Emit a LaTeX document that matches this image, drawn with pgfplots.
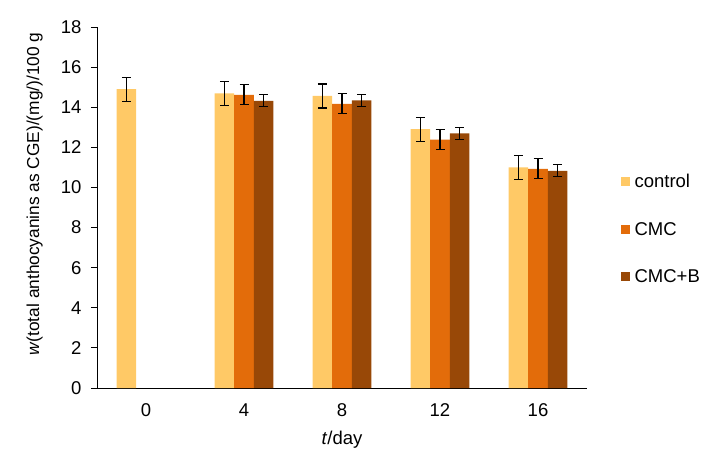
\documentclass[border=0pt]{standalone}
\usepackage{fontspec}
\setmainfont{Liberation Sans}
\usepackage{pgfplots}
\pgfplotsset{compat=1.18}
\definecolor{cctrl}{HTML}{FFC966}
\definecolor{ccmc}{HTML}{E36C0A}
\definecolor{ccmcb}{HTML}{984807}
\begin{document}
\begin{tikzpicture}
\path (-97pt,-87pt) rectangle (615pt,388pt);
\begin{axis}[
  at={(0pt,0pt)}, anchor=south west,
  scale only axis, width=490pt, height=361pt,
  font=\fontsize{18.5}{22}\selectfont,
  /pgf/number format/assume math mode=true,
  xmin=-0.5, xmax=4.5, ymin=0, ymax=18,
  xtick={0,1,2,3,4}, xticklabels={0,4,8,12,16},
  ytick={0,2,...,18},
  axis x line*=bottom, axis y line*=left,
  x axis line style={-, line width=1pt},
  y axis line style={-, line width=0.8pt},
  major x tick style={draw=none},
  y tick style={black, line width=0.8pt},
  tick align=outside, major tick length=6pt,
  yticklabel style={xshift=-6pt},
  xticklabel style={yshift=-6pt},
  xlabel={\textit{t}/day},
  ylabel={\textit{w}(total anthocyanins as CGE)/(mg/)/100 g},
  xlabel style={at={(axis description cs:0.5,-0.144)}, anchor=center},
  ylabel style={at={(axis description cs:-0.127,0.537)}, anchor=center, rotate=0,
    font=\fontsize{17.3}{20}\selectfont},
  ybar=0pt, bar width=0.2,
  legend style={draw=none, fill=none, at={(1.062,0.44)}, anchor=west,
    font=\fontsize{18.5}{22}\selectfont, row sep=29pt,
    nodes={inner xsep=2pt}},
  legend cell align=left,
  error bars/error bar style={black, line width=1.1pt},
  error bars/error mark options={rotate=90, mark size=4.5pt, line width=1.1pt, black},
]
\addplot[fill=cctrl, draw=none, bar shift=-0.2,
  legend image code/.code={\fill[cctrl] (0pt,-4.5pt) rectangle (9pt,4.5pt);},
  error bars/.cd, y dir=both, y explicit]
  coordinates {(0,14.9) +- (0,0.6) (1,14.69) +- (0,0.6) (2,14.56) +- (0,0.6) (3,12.91) +- (0,0.6) (4,11.0) +- (0,0.6)};
\addplot[fill=ccmc, draw=none, bar shift=0,
  legend image code/.code={\fill[ccmc] (0pt,-4.5pt) rectangle (9pt,4.5pt);},
  error bars/.cd, y dir=both, y explicit]
  coordinates {(1,14.62) +- (0,0.5) (2,14.17) +- (0,0.5) (3,12.39) +- (0,0.5) (4,10.93) +- (0,0.5)};
\addplot[fill=ccmcb, draw=none, bar shift=0.2,
  legend image code/.code={\fill[ccmcb] (0pt,-4.5pt) rectangle (9pt,4.5pt);},
  error bars/.cd, y dir=both, y explicit]
  coordinates {(1,14.32) +- (0,0.3) (2,14.34) +- (0,0.3) (3,12.69) +- (0,0.3) (4,10.83) +- (0,0.3)};
\legend{\hspace{3pt}control,\hspace{3pt}CMC,\hspace{3pt}CMC+B}
\end{axis}
\end{tikzpicture}
\end{document}
